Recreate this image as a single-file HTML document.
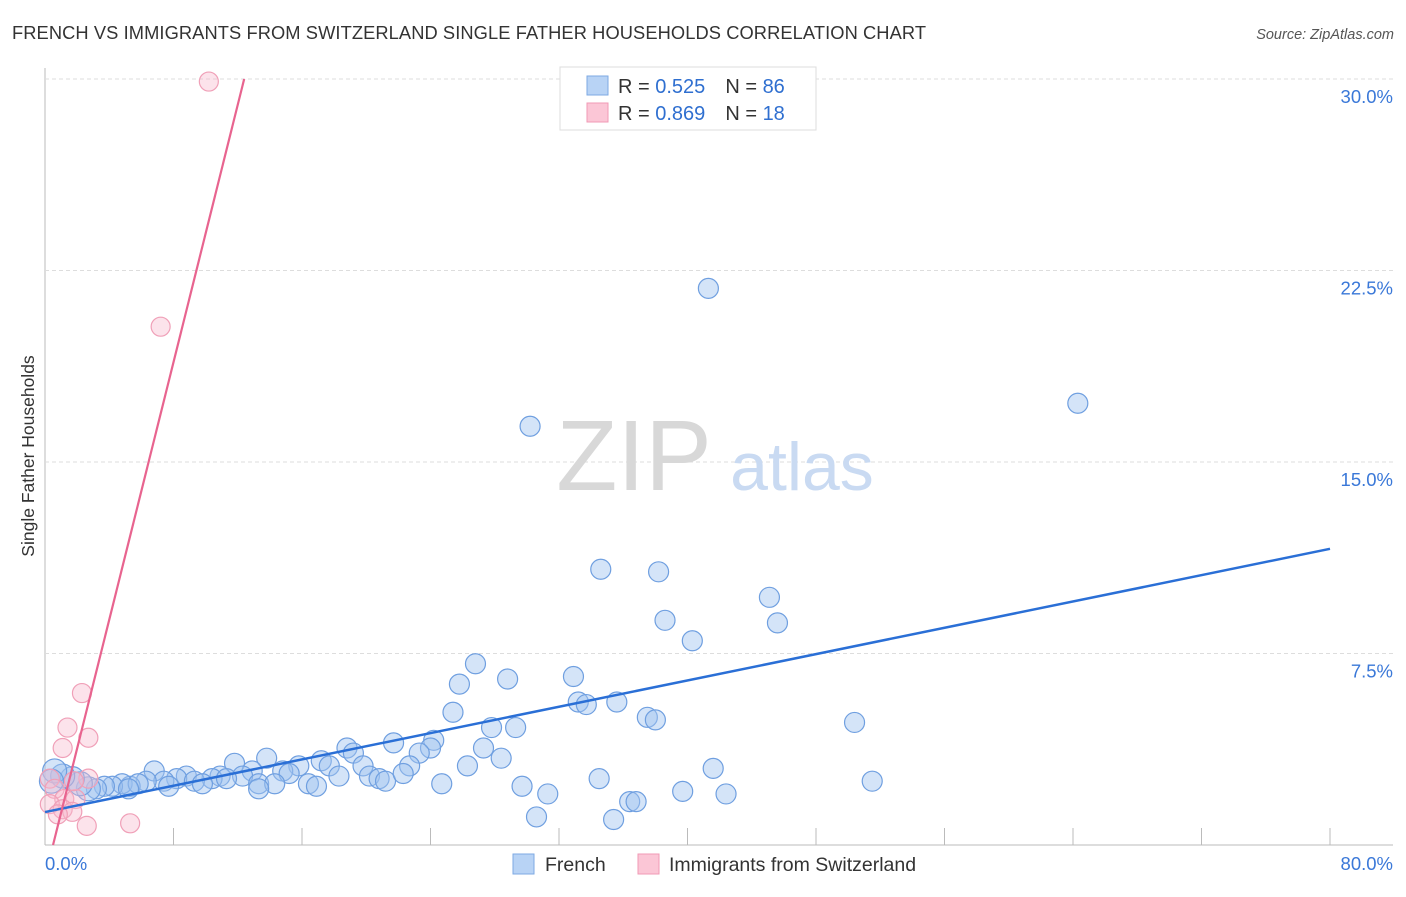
<!DOCTYPE html>
<html><head><meta charset="utf-8"><style>
body{margin:0;background:#fff;font-family:"Liberation Sans",sans-serif;}
svg text{font-family:"Liberation Sans",sans-serif;}
</style></head><body>
<svg id="chart" width="1406" height="892" xmlns="http://www.w3.org/2000/svg">
<text x="12" y="39" font-size="18.3" fill="#333" textLength="914">FRENCH VS IMMIGRANTS FROM SWITZERLAND SINGLE FATHER HOUSEHOLDS CORRELATION CHART</text>
<text x="1394" y="39" font-size="14.5" fill="#555" text-anchor="end" font-style="italic">Source: ZipAtlas.com</text>
<text transform="translate(34,456) rotate(-90)" font-size="17.5" fill="#333" text-anchor="middle">Single Father Households</text>
<g id="grid"></g>
<g>
<text x="634" y="490" font-size="100" fill="#d8d8d8" text-anchor="middle" font-family="Liberation Serif">ZIP</text>
<text x="802" y="490" font-size="68" fill="#c9daf2" text-anchor="middle">atlas</text>
</g>
<g id="pts"></g>
<g id="lines"></g>
<g>
<rect x="560" y="67" width="256" height="63" fill="#fff" stroke="#ddd"/>
<rect x="587" y="76" width="21" height="19" fill="#b8d3f5" stroke="#7ea9e3"/>
<rect x="587" y="103" width="21" height="19" fill="#fbc6d6" stroke="#f09ab5"/>
<text x="618" y="93" font-size="20" fill="#333">R = <tspan fill="#2f6fd0">0.525</tspan><tspan dx="20">N = </tspan><tspan fill="#2f6fd0">86</tspan></text>
<text x="618" y="120" font-size="20" fill="#333">R = <tspan fill="#2f6fd0">0.869</tspan><tspan dx="20">N = </tspan><tspan fill="#2f6fd0"> 18</tspan></text>
</g>
<g>
<rect x="513" y="854" width="21" height="20" fill="#b8d3f5" stroke="#7ea9e3"/>
<text x="545" y="871" font-size="19.5" fill="#333">French</text>
<rect x="638" y="854" width="21" height="20" fill="#fbc6d6" stroke="#f09ab5"/>
<text x="669" y="871" font-size="19.5" fill="#333">Immigrants from Switzerland</text>
</g>
</svg>
<script>
const yTicks=[7.5,15,22.5,30];
const yTickLabels=["7.5%","15.0%","22.5%","30.0%"];
const xTicks=[0,8,16,24,32,40,48,56,64,72,80];
const xEndLabels=["0.0%","80.0%"];
const frenchX=[41.3,64.3,30.2,34.6,38.2,45.1,38.6,45.6,40.3,26.8,32.9,28.8,25.8,33.2,33.7,35.6,25.4,37.5,38.0,50.4,27.8,29.3,21.7,24.2,24.0,23.3,18.8,27.3,19.2,13.8,17.2,28.4,22.7,15.8,17.7,11.8,6.8,12.9,19.8,26.3,41.6,14.8,12.3,15.2,18.3,20.2,20.8,21.2,22.3,34.5,51.5,8.8,10.9,10.4,11.3,8.2,9.3,7.4,6.3,9.8,7.7,13.3,14.3,16.4,16.9,24.7,5.3,4.8,4.2,5.8,3.7,3.2,2.7,2.2,1.7,1.1,0.6,0.4,29.7,13.3,31.3,39.7,42.4,36.4,36.8,30.6,35.4,5.2];
const frenchY=[21.8,17.3,16.4,10.8,10.7,9.7,8.8,8.7,8.0,7.1,6.6,6.5,6.3,5.6,5.5,5.6,5.2,5.0,4.9,4.8,4.6,4.6,4.0,4.1,3.8,3.6,3.8,3.8,3.6,3.4,3.3,3.4,3.1,3.1,3.1,3.2,2.9,2.9,3.1,3.1,3.0,2.9,2.7,2.8,2.7,2.7,2.6,2.5,2.8,2.6,2.5,2.7,2.7,2.6,2.6,2.6,2.5,2.5,2.5,2.4,2.3,2.4,2.4,2.4,2.3,2.4,2.3,2.4,2.3,2.4,2.3,2.2,2.2,2.4,2.6,2.7,2.9,2.5,2.3,2.2,2.0,2.1,2.0,1.7,1.7,1.1,1.0,2.2];
const swissX=[10.2,7.2,2.3,1.4,2.7,1.1,2.7,0.3,0.6,1.2,1.9,0.3,1.1,1.7,0.8,2.6,5.3,1.8];
const swissY=[29.9,20.3,5.95,4.6,4.2,3.8,2.6,2.6,2.2,1.8,1.8,1.6,1.4,1.3,1.2,0.75,0.85,2.5];
const frenchTrendX=[0,80], frenchTrendY=[1.29,11.6];
const swissTrendX=[0.5,12.4], swissTrendY=[0,30];
const NS="http://www.w3.org/2000/svg";
const X0=45,X1=1330,Y0=845,YTOP=79;
const xs=v=>X0+v/80*(X1-X0);
const ys=v=>Y0-v/30*(Y0-YTOP);
function mk(t,a,p){const e=document.createElementNS(NS,t);for(const k in a)e.setAttribute(k,a[k]);p.appendChild(e);return e;}
const grid=document.getElementById('grid');
const ax=mk('line',{x1:X0,y1:68,x2:X0,y2:Y0,stroke:'#bbb'},grid);


const bx=mk('line',{x1:X0,y1:Y0,x2:1393,y2:Y0,stroke:'#bbb'},grid);


yTicks.forEach((v,i)=>{
 const g=mk('line',{x1:X0,y1:ys(v),x2:1393,y2:ys(v),stroke:'#ddd','stroke-dasharray':'4,3'},grid);
 
 
 const t=mk('text',{x:1393,y:ys(v)+24,'font-size':18.5,fill:'#3a78d8','text-anchor':'end'},grid);
 t.textContent=yTickLabels[i];
 
 
});
xTicks.forEach(v=>{if(v===0)return;
 const l=mk('line',{x1:xs(v),y1:828,x2:xs(v),y2:Y0,stroke:'#bbb'},grid);
 
 
});
[[0,45,'start'],[80,1393,'end']].forEach((d,i)=>{
 const t=mk('text',{x:d[1],y:870,'font-size':18.5,fill:'#3a78d8','text-anchor':d[2]},grid);
 t.textContent=xEndLabels[i];
 
 
});
const pts=document.getElementById('pts');
frenchX.forEach((v,i)=>{
 const r=(v<3)?12:10;
 const c=mk('circle',{cx:xs(v),cy:ys(frenchY[i]),r:r,fill:'rgba(160,196,240,0.45)',stroke:'#6f9fe0','stroke-width':1.2},pts);
 
 
});
swissX.forEach((v,i)=>{
 const c=mk('circle',{cx:xs(v),cy:ys(swissY[i]),r:9.5,fill:'rgba(248,185,205,0.4)',stroke:'#f0a0b8','stroke-width':1.2},pts);
 
 
});
const lines=document.getElementById('lines');
const l1=mk('line',{x1:xs(frenchTrendX[0]),y1:ys(frenchTrendY[0]),x2:xs(frenchTrendX[1]),y2:ys(frenchTrendY[1]),stroke:'#2a6fd6','stroke-width':2.5},lines);


const l2=mk('line',{x1:xs(swissTrendX[0]),y1:ys(swissTrendY[0]),x2:xs(swissTrendX[1]),y2:ys(swissTrendY[1]),stroke:'#e8648f','stroke-width':2.2},lines);


</script>
</body></html>
